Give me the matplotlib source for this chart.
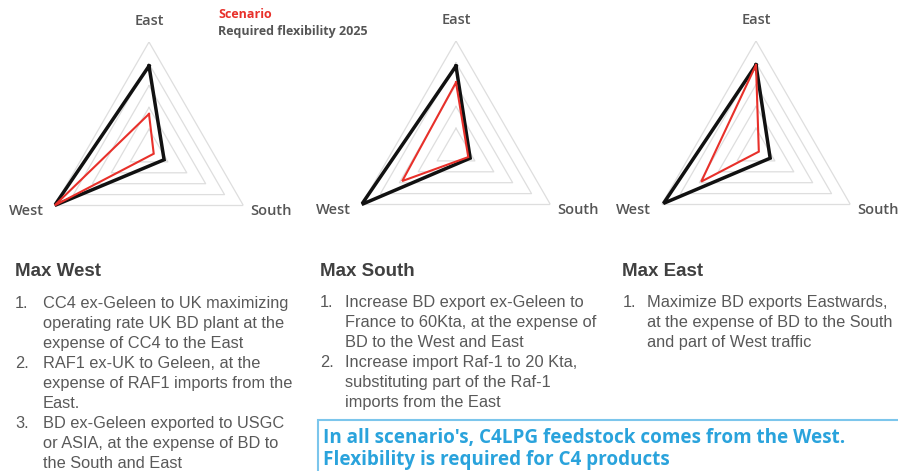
import numpy as np
import matplotlib
matplotlib.use("Agg")
import matplotlib.pyplot as plt
from matplotlib.patches import Rectangle

# ---------------- data ----------------
axes_labels = ["East", "South", "West"]
axes_angles_deg = [90, -30, 210]
grid_levels = [0.2, 0.4, 0.6, 0.8, 1.0]

scenario_titles = ["Max West", "Max South", "Max East"]
required_flex = [          # black: Required flexibility 2025
    [0.78, 0.16, 1.00],
    [0.77, 0.15, 1.00],
    [0.78, 0.15, 0.98],
]
scenario_vals = [          # red: Scenario
    [0.34, 0.05, 1.00],
    [0.62, 0.13, 0.57],
    [0.78, 0.03, 0.58],
]

items_west = [
    ["CC4 ex-Geleen to UK maximizing", "operating rate UK BD plant at the", "expense of CC4 to the East"],
    ["RAF1 ex-UK to Geleen, at the", "expense of RAF1 imports from the", "East."],
    ["BD ex-Geleen exported to USGC", "or ASIA, at the expense of BD to", "the South and East"],
]
items_south = [
    ["Increase BD export ex-Geleen to", "France to 60Kta, at the expense of", "BD to the West and East"],
    ["Increase import Raf-1 to 20 Kta,", "substituting part of the Raf-1", "imports from the East"],
]
items_east = [
    ["Maximize BD exports Eastwards,", "at the expense of BD to the South", "and part of West traffic"],
]
legend_labels = ["Scenario", "Required flexibility 2025"]
footer_lines = ["In all scenario's, C4LPG feedstock comes from the West.",
                "Flexibility is required for C4 products"]

# ---------------- figure ----------------
W, H = 898, 471
fig = plt.figure(figsize=(W / 100, H / 100), dpi=100)
fig.patch.set_facecolor("white")

def fx(x):
    return x / W

def fy(y):
    return 1 - y / H

RED = "#e8302a"
BLACK = "#111111"
GRID = "#dedede"
LABEL = "#555555"
TEXT = "#595959"
HEAD = "#404040"
BLUE = "#2aa3dc"
BOXC = "#7cc6ec"

centers = [(149, 151), (456, 150), (756, 150)]
R = 109
theta = np.deg2rad(axes_angles_deg)
theta_closed = np.append(theta, theta[0])

label_pos = {"East": (90, 1.19), "South": (-26, 1.25), "West": (206, 1.25)}

for i, (cx, cy) in enumerate(centers):
    ax = fig.add_axes([fx(cx - R), fy(cy + R), 2 * R / W, 2 * R / H], projection="polar")
    ax.set_ylim(0, 1)
    ax.grid(False)
    ax.set_xticks([])
    ax.set_yticks([])
    ax.spines["polar"].set_visible(False)
    ax.patch.set_alpha(0)
    for lv in grid_levels:
        ax.plot(theta_closed, [lv] * 4, color=GRID, lw=0.9, zorder=1)
    rv = np.append(required_flex[i], required_flex[i][0])
    sv = np.append(scenario_vals[i], scenario_vals[i][0])
    ax.plot(theta_closed, rv, color=BLACK, lw=2.5, zorder=3, solid_joinstyle="miter")
    ax.plot(theta_closed, sv, color=RED, lw=1.5, zorder=4, solid_joinstyle="miter")
    for lab in axes_labels:
        ang, rr = label_pos[lab]
        ax.text(np.deg2rad(ang), rr, lab, ha="center", va="center",
                fontsize=10.5, color=LABEL, family="Open Sans", fontweight="semibold")

# legend text
fig.text(fx(218), fy(15), legend_labels[0], color=RED, fontsize=9,
         fontweight="bold", family="Open Sans", va="center", ha="left")
fig.text(fx(218), fy(32), legend_labels[1], color="#555555", fontsize=9,
         fontweight="bold", family="Open Sans", va="center", ha="left")

# text columns
def draw_column(title, items, x_head, x_num, x_text, y_head, y_first):
    fig.text(fx(x_head), fy(y_head), title, fontsize=13.5, fontweight="bold",
             color=HEAD, family="Liberation Sans", va="baseline")
    y = y_first
    for n, lines in enumerate(items):
        fig.text(fx(x_num), fy(y), f"{n + 1}.", fontsize=11.8, color=TEXT,
                 family="Liberation Sans", va="baseline")
        for ln in lines:
            fig.text(fx(x_text), fy(y), ln, fontsize=11.8, color=TEXT,
                     family="Liberation Sans", va="baseline")
            y += 20

draw_column(scenario_titles[0], items_west, 15, 15, 43, 276, 308)
draw_column(scenario_titles[1], items_south, 320, 320, 345, 276, 307)
draw_column(scenario_titles[2], items_east, 622, 623, 647, 276, 307)

# footer box
box = Rectangle((fx(318), fy(480)), fx(600), (480 - 420) / H, transform=fig.transFigure,
                fill=False, edgecolor=BOXC, lw=1.5, clip_on=False)
fig.add_artist(box)
fig.text(fx(323), fy(443), footer_lines[0], color=BLUE, fontsize=13.6,
         fontweight="bold", family="Open Sans", va="baseline")
fig.text(fx(323), fy(465), footer_lines[1], color=BLUE, fontsize=13.6,
         fontweight="bold", family="Open Sans", va="baseline")

fig.savefig("out.png", dpi=100)
